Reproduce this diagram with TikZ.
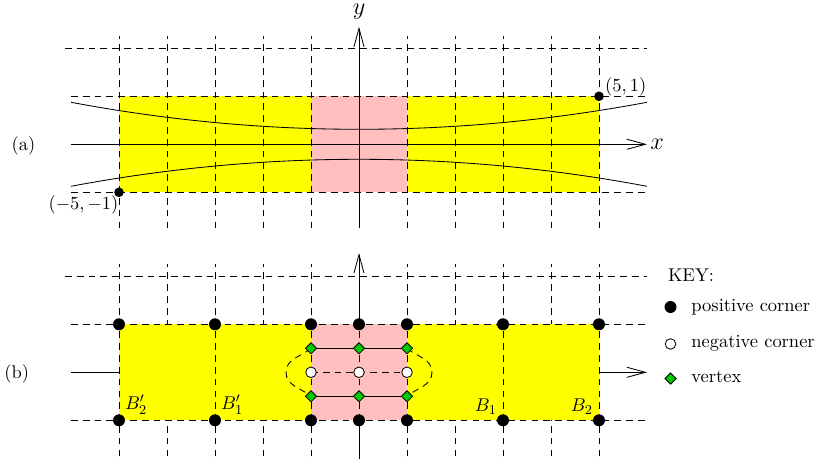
\documentclass[tikz,border=0pt]{standalone}
\usetikzlibrary{arrows.meta,shapes.geometric}
\definecolor{hpink}{RGB}{255,191,191}
\definecolor{hgreen}{RGB}{0,200,0}
\definecolor{hyellow}{RGB}{255,255,0}
\begin{document}
\begin{tikzpicture}[x=1cm,y=1cm,line width=0.5pt,
  font=\fontsize{10.95}{13.6}\selectfont,
  gridline/.style={dash pattern=on 4pt off 3pt},
  axisline/.style={-{Straight Barb[length=11pt,width=6pt]}},
  bigmath/.style={font=\fontsize{14.4}{17}\selectfont},
  pdotsmall/.style={circle,fill=black,inner sep=0pt,minimum size=0.2cm},
  pdot/.style={circle,fill=black,inner sep=0pt,minimum size=0.25cm},
  ndot/.style={circle,draw=black,fill=white,inner sep=0pt,minimum size=0.22cm},
  vdot/.style={diamond,draw=black,fill=hgreen,inner sep=0pt,minimum size=0.24cm},
  keytext/.style={anchor=base west,inner sep=0pt}]
\useasboundingbox (-7.479,-6.556) rectangle (9.5,3.006);

% ---------------- panel (a) ----------------
\fill[hyellow] (-5,-1) rectangle (5,1);
\fill[hpink] (-1,-1) rectangle (1,1);
\foreach \x in {-5,...,5} \draw[gridline] (\x,-1.75) -- (\x,2.25);
\draw[gridline] (-6.125,2) -- (6,2);
\draw[gridline] (-6,1) -- (6,1);
\draw[gridline] (-6,-1) -- (6,-1);
\coordinate (axa0) at (-6,0);
\coordinate (axa1) at (6,0);
\coordinate (aya0) at (0,-1.75);
\coordinate (aya1) at (0,2.45);
\draw[axisline] (axa0) -- (axa1);
\draw[axisline] (aya0) -- (aya1);
\node[bigmath,anchor=west,inner sep=1.8pt] (xlab) at (axa1) {$x$};
\node[bigmath,inner sep=0pt] (ylab) at (0,2.76) {$y$};
\draw plot[domain=-6:6,samples=61,smooth] (\x,{5/16+\x*\x/64});
\draw plot[domain=-6:6,samples=61,smooth] (\x,{-5/16-\x*\x/64});
\node[pdotsmall] (d51) at (5,1) {};
\node[pdotsmall] (dm5m1) at (-5,-1) {};
\node[inner sep=0pt] (l51) at (5.556,1.2) {$(5,1)$};
\node[inner sep=0pt] (lm5m1) at (-5.74,-1.264) {$(-5,-1)$};
\node[inner sep=0pt] (la) at (-6.99,-0.03) {(a)};

% ---------------- panel (b) ----------------
\begin{scope}[yshift=-4.75cm]
\foreach \x in {-5,...,5} \draw[gridline] (\x,-1.75) -- (\x,2.25);
\draw[gridline] (-6.125,2) -- (6,2);
\draw[gridline] (-6,1) -- (6,1);
\draw[gridline] (-6,-1) -- (6,-1);
\coordinate (axb0) at (-6,0);
\coordinate (axb1) at (6,0);
\coordinate (ayb0) at (0,-2);
\coordinate (ayb1) at (0,2.485);
\draw[axisline] (axb0) -- (axb1);
\draw[axisline] (ayb0) -- (ayb1);
\fill[hyellow] (-5,-1) rectangle (5,1);
\fill[hpink] (-1,-1) rectangle (1,1);
\foreach \x in {-5,-3,-1,0,1,3,5} \draw[gridline] (\x,-1.75) -- (\x,2.25);
\draw[gridline] (-6,1) -- (6,1);
\draw[gridline] (-6,-1) -- (6,-1);

% positions
\foreach \x/\n in {-5/m5,-3/m3,-1/m1,0/z,1/p1,3/p3,5/p5} {
  \coordinate (pt\n) at (\x,1);
  \coordinate (pb\n) at (\x,-1);
}
\coordinate (nl) at (-1,0);
\coordinate (nm) at (0,0);
\coordinate (nr) at (1,0);
\coordinate (vlt) at (-1,0.5);
\coordinate (vmt) at (0,0.5);
\coordinate (vrt) at (1,0.5);
\coordinate (vlb) at (-1,-0.5);
\coordinate (vmb) at (0,-0.5);
\coordinate (vrb) at (1,-0.5);
\coordinate (cl) at (-1.52,0);
\coordinate (cr) at (1.52,0);

% connectors
\draw[gridline] (nl) -- (nm) -- (nr);
\draw (vlt) -- (vmt) -- (vrt);
\draw (vlb) -- (vmb) -- (vrb);
\draw[gridline] (vlt) to[out=220,in=90] (cl) to[out=-90,in=140] (vlb);
\draw[gridline] (vrt) to[out=-40,in=90] (cr) to[out=-90,in=40] (vrb);

% nodes
\foreach \n in {m5,m3,m1,z,p1,p3,p5} {
  \node[pdot] (Pt\n) at (pt\n) {};
  \node[pdot] (Pb\n) at (pb\n) {};
}
\node[ndot] (Nl) at (nl) {};
\node[ndot] (Nm) at (nm) {};
\node[ndot] (Nr) at (nr) {};
\foreach \n in {vlt,vmt,vrt,vlb,vmb,vrb} \node[vdot] (V\n) at (\n) {};

\node[above right] (lb2p) at (pbm5) {$B'_2$};
\node[above right] (lb1p) at (pbm3) {$B'_1$};
\node[above left] (lb1) at (pbp3) {$B_1$};
\node[above left] (lb2) at (pbp5) {$B_2$};

\node[inner sep=0pt] (lb) at (-7.13,-0.03) {(b)};

% key
\node[keytext] (key) at (6.43,1.8875) {KEY:};
\node[pdot] (k1) at (6.49,1.36) {};
\node[ndot] (k2) at (6.49,0.59) {};
\node[vdot] (k3) at (6.49,-0.13) {};
\node[keytext] (k1t) at (6.917,1.277) {positive corner};
\node[keytext] (k2t) at (6.917,0.507) {negative corner};
\node[keytext] (k3t) at (6.917,-0.213) {vertex};
\end{scope}
\end{tikzpicture}
\end{document}
